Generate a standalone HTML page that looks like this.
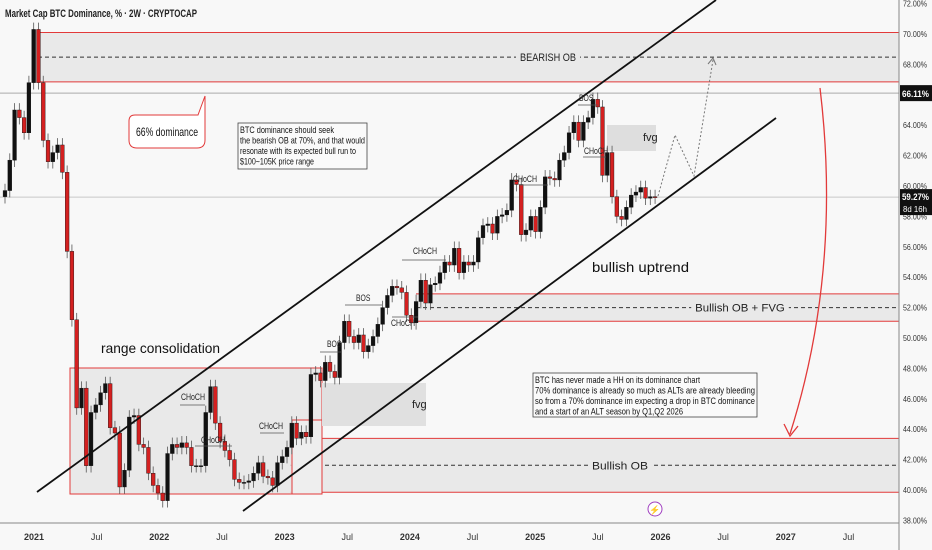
<!DOCTYPE html>
<html><head><meta charset="utf-8">
<style>
html,body{margin:0;padding:0;background:#f8f8f8;}
svg{display:block;font-family:"Liberation Sans",sans-serif;}
</style></head>
<body>
<svg id="chart" width="932" height="550" viewBox="0 0 932 550" xmlns="http://www.w3.org/2000/svg">
<rect x="0" y="0" width="932" height="550" fill="#f8f8f8"/>
<g id="zones"></g>
<g id="candles"></g>
<g id="overlay"></g>
<g id="axes"></g>
</svg>
<script>
// ---- data ----
const closes = [59.7,61.7,65.0,64.5,63.5,66.8,70.3,66.8,63.0,61.6,62.2,62.7,60.9,55.7,51.2,45.4,46.7,41.6,45.1,45.6,46.4,47.0,44.1,43.75,40.2,41.3,44.8,44.9,43.0,42.8,41.1,40.3,39.8,39.3,42.4,43.0,42.8,43.1,42.8,41.6,41.6,41.6,45.1,46.8,44.4,43.2,42.6,42.0,40.7,40.5,40.5,40.6,41.1,41.8,40.9,40.8,40.3,41.8,42.2,42.8,44.4,43.4,43.8,43.5,47.6,47.7,47.2,48.4,47.8,47.4,49.7,51.1,50.1,49.7,50.2,49.1,49.5,50.1,50.9,52.0,52.8,53.4,53.3,53.0,51.5,51.0,52.4,53.8,52.3,53.5,53.6,54.3,55.0,54.8,55.9,54.3,55.0,54.8,55.0,56.6,57.4,57.5,56.9,58.0,58.1,58.4,60.4,60.1,56.8,57.1,58.0,57.0,58.6,60.6,60.5,60.4,61.7,62.2,63.5,64.2,63.0,64.2,64.5,65.7,65.2,60.7,62.2,59.3,58.0,57.8,58.6,59.4,59.6,59.9,59.2,59.3,59.27];
const firstOpen = 59.3;
const priceTicks = [72,70,68,64,62,60,58,56,54,52,50,48,46,44,42,40,38];
const timeLabels = ["2021","Jul","2022","Jul","2023","Jul","2024","Jul","2025","Jul","2026","Jul","2027","Jul"];
const timeLabelYears = [2021,2021.5,2022,2022.5,2023,2023.5,2024,2024.5,2025,2025.5,2026,2026.5,2027,2027.5];
const lastPrice = 59.27;
const markPrice = 66.11;

// ---- scales ----
const Y = p => 34 + (70 - p) * 15.2;
const XI = i => 5 + i * 4.78;
const XT = t => 34 + (t - 2021) * 125.3;
const NS = "http://www.w3.org/2000/svg";
function mk(tag, attrs, parent, text){
  const e = document.createElementNS(NS, tag);
  for (const k in attrs) e.setAttribute(k, attrs[k]);
  if (text !== undefined) e.textContent = text;
  parent.appendChild(e); return e;
}
const zones = document.getElementById('zones');
const cg = document.getElementById('candles');
const ov = document.getElementById('overlay');
const ax = document.getElementById('axes');
const RED = "#e23a3a";

function zone(x1, top, bot, name, label, lx){
  const g = mk('g', {}, zones);
  
  
  mk('rect', {x:x1, y:Y(top), width:899-x1, height:Y(bot)-Y(top), fill:"#e9e9e9"}, g);
  mk('line', {x1:x1, x2:899, y1:Y(top), y2:Y(top), stroke:RED, 'stroke-width':1}, g);
  mk('line', {x1:x1, x2:899, y1:Y(bot), y2:Y(bot), stroke:RED, 'stroke-width':1}, g);
  const mid = (Y(top)+Y(bot))/2;
  mk('line', {x1:x1, x2:899, y1:mid, y2:mid, stroke:"#333", 'stroke-width':1, 'stroke-dasharray':'4,3'}, g);
  const w = label.length*5.6+8;
  mk('rect', {x:lx-w/2, y:mid-8, width:w, height:16, fill:"#e9e9e9"}, g);
  mk('text', {x:lx, y:mid+4, 'text-anchor':'middle', 'font-size':11, fill:'#222', textLength:w-8, lengthAdjust:'spacingAndGlyphs'}, g, label);
}
zone(38, 70.1, 66.85, 'bearish-ob-zone', 'BEARISH OB', 548);
zone(416, 52.9, 51.1, 'bullish-ob-fvg-zone', 'Bullish OB + FVG', 740);
zone(290, 43.4, 39.85, 'bullish-ob-zone', 'Bullish OB', 620);

const rb = mk('rect', {x:70, y:368, width:252, height:126, fill:"#e6e6e6", 'fill-opacity':0.85, stroke:RED, 'stroke-width':1}, zones);


const rb2 = mk('rect', {x:292, y:420, width:30, height:74, fill:"#eeeeee", stroke:RED, 'stroke-width':1}, zones);


const f1 = mk('rect', {x:322, y:383, width:104, height:43, fill:"#e0e0e0"}, zones);


const f1t = mk('text', {x:412, y:408, 'font-size':11, fill:'#222'}, zones, 'fvg');


const f2 = mk('rect', {x:607, y:125, width:49, height:26, fill:"#dedede"}, zones);


const f2t = mk('text', {x:643, y:141, 'font-size':11, fill:'#222'}, zones, 'fvg');



const hl1 = mk('line', {x1:0, x2:899, y1:Y(markPrice), y2:Y(markPrice), stroke:"#aaa", 'stroke-width':1}, zones);


const hl2 = mk('line', {x1:0, x2:899, y1:Y(lastPrice), y2:Y(lastPrice), stroke:"#c8c8c8", 'stroke-width':1}, zones);



const WICK = 0.45;
let prev = firstOpen;
closes.forEach((c, i) => {
  const o = prev; prev = c;
  const up = c >= o;
  const col = up ? "#111" : "#d42020";
  const x = XI(i);
  const g = mk('g', {}, cg);
  
  
  mk('line', {x1:x, x2:x, y1:Y(Math.max(o,c)+WICK), y2:Y(Math.min(o,c)-WICK), stroke:"#555", 'stroke-width':0.8}, g);
  const t = Y(Math.max(o,c)), b = Y(Math.min(o,c));
  mk('rect', {x:x-1.9, y:t, width:3.8, height:Math.max(1, b-t), fill:col, stroke:"#111", 'stroke-width':0.4}, g);
});

const ch1 = mk('line', {x1:37, y1:492, x2:716, y2:0, stroke:"#111", 'stroke-width':1.8}, ov);


const ch2 = mk('line', {x1:243, y1:511, x2:776, y2:118, stroke:"#111", 'stroke-width':1.8}, ov);



const pp = mk('polyline', {points:"658,196 675,135 694,176 713,60", fill:"none", stroke:"#777", 'stroke-width':1, 'stroke-dasharray':'2,2'}, ov);


mk('polyline', {points:"708,64 713,58 716,65", fill:"none", stroke:"#777", 'stroke-width':1}, ov);

const ra = mk('path', {d:"M820,88 Q842,270 790,434", fill:"none", stroke:RED, 'stroke-width':1.3}, ov);


mk('polyline', {points:"784,424 790,436 798,426", fill:"none", stroke:RED, 'stroke-width':1.3}, ov);

const marks = [
 [320,352,342,'BOS',327,347],[345,305,382,'BOS',356,301],[392,317,418,'CHoCH',391,326],
 [402,260,446,'CHoCH',413,254],[520,185,548,'CHoCH',513,182],[578,105,598,'BOS',579,101],
 [583,157,606,'CHoCH',584,154],[180,405,205,'CHoCH',181,400],[195,446,232,'CHoCH',201,443],
 [260,433,284,'CHoCH',259,429]
];
marks.forEach(m => {
  const g = mk('g', {}, ov);
  
  
  mk('line', {x1:m[0], x2:m[2], y1:m[1], y2:m[1], stroke:'#555', 'stroke-width':0.7}, g);
  mk('text', {x:m[4], y:m[5], 'font-size':9, fill:'#222', textLength:m[3].length*4.8, lengthAdjust:'spacingAndGlyphs'}, g, m[3]);
});

function txt(x, y, s, size, name, len){
  const t = mk('text', {x:x, y:y, 'font-size':size, fill:'#111', textLength:len, lengthAdjust:'spacingAndGlyphs'}, ov, s);
  
  
}
txt(101, 353, 'range consolidation', 14, 'range-consolidation-label', 119);
txt(592, 272, 'bullish uptrend', 14, 'bullish-uptrend-label', 97);

const co = mk('g', {}, ov);


mk('path', {d:"M135,115 L198,115 L205,96 L205,140 Q205,148 197,148 L137,148 Q129,148 129,140 L129,121 Q129,115 135,115 Z", fill:"#fff", stroke:RED, 'stroke-width':1}, co);
mk('text', {x:136, y:136, 'font-size':12, fill:'#111', textLength:62, lengthAdjust:'spacingAndGlyphs'}, co, '66% dominance');

function box(x, y, w, h, lines, lens, name){
  const g = mk('g', {}, ov);
  
  
  mk('rect', {x:x, y:y, width:w, height:h, fill:'#fafafa', stroke:'#444', 'stroke-width':0.8}, g);
  lines.forEach((l, i) => mk('text', {x:x+2, y:y+10+i*10.5, 'font-size':9.5, fill:'#111', textLength:lens[i], lengthAdjust:'spacingAndGlyphs'}, g, l));
}
box(238, 123, 129, 46, ['BTC dominance should seek','the bearish OB at 70%, and that would','resonate with its expected bull run to','$100~105K price range'], [94,125,116,74], 'note-bearish-ob');
box(533, 373, 224, 44, ['BTC has never made a HH on its dominance chart','70% dominance is already so much as ALTs  are already bleeding','so from a 70% dominance im expecting a drop in BTC dominance','and a start of an ALT season by Q1,Q2 2026'], [165,220,220,148], 'note-alt-season');

const tt = mk('text', {x:5, y:17, 'font-size':11, fill:'#222', 'font-weight':'bold', textLength:192, lengthAdjust:'spacingAndGlyphs'}, ov, 'Market Cap BTC Dominance, % · 2W · CRYPTOCAP');



const li = mk('g', {}, ov);


mk('circle', {cx:655, cy:509, r:7, fill:'#fff', stroke:'#a040c0', 'stroke-width':1}, li);
mk('text', {x:655, y:513, 'font-size':9, 'text-anchor':'middle', fill:'#a040c0'}, li, '⚡');

mk('rect', {x:899, y:0, width:33, height:550, fill:'#f8f8f8'}, ax);
const ya = mk('line', {x1:899, x2:899, y1:0, y2:550, stroke:'#888', 'stroke-width':1}, ax);


const xa = mk('line', {x1:0, x2:899, y1:523, y2:523, stroke:'#888', 'stroke-width':1}, ax);


priceTicks.forEach(p => {
  const t = mk('text', {x:903, y:Y(p)+3, 'font-size':8.5, fill:'#333', textLength:24, lengthAdjust:'spacingAndGlyphs'}, ax, p.toFixed(2) + '%');
  
  
});
timeLabels.forEach((l, i) => {
  const t = mk('text', {x:XT(timeLabelYears[i]), y:540, 'font-size':9, 'text-anchor':'middle', fill:'#333', 'font-weight': l.length===4 ? 'bold' : 'normal'}, ax, l);
  
  
});
const b1 = mk('g', {}, ax);


mk('rect', {x:900, y:Y(markPrice)-8, width:32, height:16, fill:'#111'}, b1);
mk('text', {x:902, y:Y(markPrice)+4, 'font-size':9, fill:'#fff', 'font-weight':'bold', textLength:27, lengthAdjust:'spacingAndGlyphs'}, b1, markPrice.toFixed(2) + '%');
const b2 = mk('g', {}, ax);


mk('rect', {x:900, y:Y(lastPrice)-8, width:32, height:26, fill:'#111'}, b2);
mk('text', {x:902, y:Y(lastPrice)+3, 'font-size':9, fill:'#fff', 'font-weight':'bold', textLength:27, lengthAdjust:'spacingAndGlyphs'}, b2, lastPrice.toFixed(2) + '%');
mk('text', {x:903, y:Y(lastPrice)+15, 'font-size':8.5, fill:'#fff', textLength:24, lengthAdjust:'spacingAndGlyphs'}, b2, '8d 16h');
</script>
</body></html>
